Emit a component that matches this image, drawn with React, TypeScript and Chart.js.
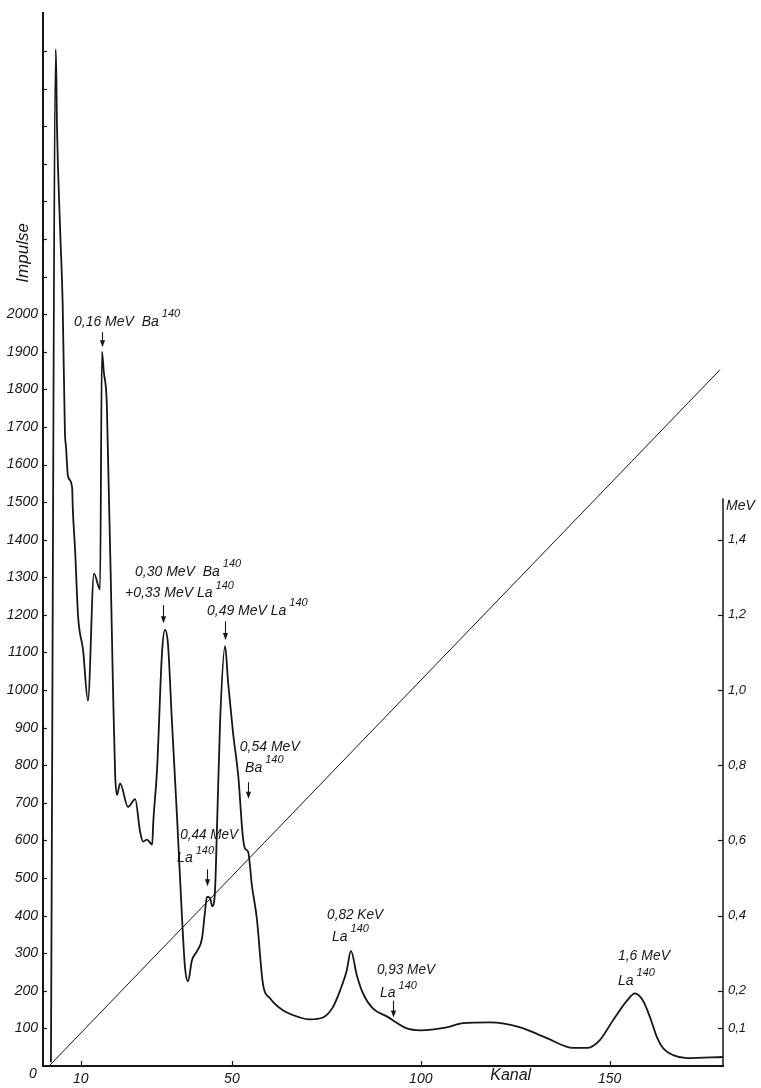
import React, { useEffect, useRef } from 'react';
import { Chart, registerables } from 'chart.js';

Chart.register(...registerables);

// ---- data ----
const CHANNELS = [
  2.1, 3.4, 3.7, 4.5, 5.2, 5.8, 6.1, 6.6, 7.7, 7.9, 8.5, 9.3, 10.6, 11.9, 13.5, 15.1, 15.6, 16.1, 16.9,
  18.5, 19.1, 19.6, 20.4, 22.5, 24.4, 25.7, 26.5, 27.5, 28.9, 29.2, 30.2, 31.5, 32.3, 33.1, 34.1, 35.5,
  36.8, 37.6, 38.4, 39.4, 40.8, 42.1, 42.9, 43.4, 44.2, 44.8, 45.5, 46.1, 46.9, 48.2, 49.0, 50.3, 51.7,
  52.9, 53.5, 54.3, 55.3, 56.6, 58.2, 60.1, 63.5, 68.0, 70.7, 74.1, 76.7, 78.6, 80.4, 81.5, 83.1, 84.7,
  87.3, 91.0, 96.3, 99.8, 106.9, 111.2, 118.3, 126.3, 133.4, 140.3, 144.0, 147.4, 150.9, 154.6, 156.7,
  158.8, 160.7, 162.5, 164.1, 166.8, 170.5, 180,
];
const COUNTS = [
  10, 2705, 2500, 2235, 2030, 1688, 1646, 1569, 1540, 1480, 1371, 1195, 1107, 972, 1310, 1268, 1900, 1846, 1759,
  1020, 774, 721, 752, 689, 710, 623, 597, 602, 589, 650, 790, 1099, 1160, 1120, 922, 658,
  394, 261, 225, 280, 306, 340, 412, 450, 447, 425, 460, 650, 922, 1117, 1020, 887, 770,
  610, 578, 570, 480, 393, 220, 180, 148, 129, 124, 129, 156, 200, 254, 306, 240, 193,
  153, 132, 100, 95, 103, 114, 116, 103, 74, 48, 48, 69, 122, 174, 193,
  174, 129, 77, 48, 29, 21, 24,
];
// energy calibration line (Kanal -> MeV)
const CAL_CHANNELS = [1.6, 179.2];
const CAL_MEV = [0, 1.852];

const X_TICKS = [10, 50, 100, 150];
const IMPULSE_LABEL_MAX = 2000;
const MEV_TICKS = [0.1, 0.2, 0.4, 0.6, 0.8, 1.0, 1.2, 1.4];
const MEV_AXIS_TOP = 1.51;

// peak labels, anchored in data units (Kanal, Impulse)
const LABELS = [
  { text: '0,16 MeV  Ba', sup: '140', ch: 8.2, v: 1978, w: 93 },
  { text: '0,30 MeV  Ba', sup: '140', ch: 24.35, v: 1315, w: 93 },
  { text: '+0,33 MeV La', sup: '140', ch: 21.7, v: 1257, w: 95 },
  { text: '0,49 MeV La', sup: '140', ch: 43.4, v: 1210, w: 85 },
  { text: '0,54 MeV', sup: '', ch: 52.1, v: 848, w: 65 },
  { text: 'Ba', sup: '140', ch: 53.5, v: 792, w: 22 },
  { text: '0,44 MeV', sup: '', ch: 36.3, v: 613, w: 58 },
  { text: 'La', sup: '140', ch: 35.5, v: 552, w: 18 },
  { text: '0,82 KeV', sup: '', ch: 75.2, v: 401, w: 56 },
  { text: 'La', sup: '140', ch: 76.5, v: 343, w: 20 },
  { text: '0,93 MeV', sup: '', ch: 88.4, v: 256, w: 58 },
  { text: 'La', sup: '140', ch: 89.2, v: 193, w: 18 },
  { text: '1,6 MeV', sup: '', ch: 152.2, v: 293, w: 52 },
  { text: 'La', sup: '140', ch: 152.2, v: 225, w: 19 },
];
const ARROWS = [
  { ch: 15.6, from: 1952, to: 1912 },
  { ch: 31.8, from: 1226, to: 1178 },
  { ch: 48.2, from: 1183, to: 1133 },
  { ch: 54.3, from: 755, to: 711 },
  { ch: 43.4, from: 523, to: 478 },
  { ch: 92.6, from: 174, to: 129 },
];

const INK = '#161616';
const FONT = '"Liberation Sans", Arial, sans-serif';

const decor = {
  id: 'decor',
  afterDraw(chart: any) {
    const { ctx, chartArea, scales } = chart;
    const sx = scales.x, sy = scales.y, sy2 = scales.y2;
    const line = (x1: number, y1: number, x2: number, y2: number) => {
      ctx.beginPath();
      ctx.moveTo(x1, y1);
      ctx.lineTo(x2, y2);
      ctx.stroke();
    };
    ctx.save();
    ctx.strokeStyle = INK;
    ctx.fillStyle = INK;

    // inward tick marks on the Impulse axis
    ctx.lineWidth = 1.2;
    for (let v = 100; v <= 2700; v += 100) {
      const py = Math.round(sy.getPixelForValue(v)) + 0.5;
      line(chartArea.left, py, chartArea.left + 4, py);
    }
    // inward tick marks on the Kanal axis
    for (const v of X_TICKS) {
      const px = Math.round(sx.getPixelForValue(v)) + 0.5;
      line(px, chartArea.bottom, px, chartArea.bottom - 5);
    }
    // right MeV axis (partial height)
    const rx = chartArea.right;
    ctx.lineWidth = 1.5;
    line(rx, sy2.getPixelForValue(0), rx, sy2.getPixelForValue(MEV_AXIS_TOP));
    ctx.lineWidth = 1.2;
    for (const e of MEV_TICKS) {
      const py = Math.round(sy2.getPixelForValue(e)) + 0.5;
      line(rx - 5, py, rx, py);
    }

    const text = (t: string, x: number, y: number, size: number, maxW?: number) => {
      ctx.font = `italic ${size}px ${FONT}`;
      ctx.textBaseline = 'middle';
      ctx.textAlign = 'left';
      const nat = ctx.measureText(t).width;
      if (maxW && nat > maxW) {
        ctx.fillText(t, x, y, maxW);
        return maxW;
      }
      ctx.fillText(t, x, y);
      return nat;
    };

    // peak labels
    for (const l of LABELS) {
      const px = sx.getPixelForValue(l.ch);
      const py = sy.getPixelForValue(l.v);
      const w = text(l.text, px, py, 14, l.w);
      if (l.sup) text(l.sup, px + w + 3, py - 8, 11, 20);
    }
    // arrows
    ctx.lineWidth = 1.1;
    for (const a of ARROWS) {
      const px = Math.round(sx.getPixelForValue(a.ch)) + 0.5;
      const t = sy.getPixelForValue(a.from);
      const b = sy.getPixelForValue(a.to);
      line(px, t, px, b - 5);
      ctx.beginPath();
      ctx.moveTo(px - 2.6, b - 7);
      ctx.lineTo(px + 2.6, b - 7);
      ctx.lineTo(px, b);
      ctx.closePath();
      ctx.fill();
    }

    // axis titles
    ctx.save();
    ctx.translate(chartArea.left - 20, sy.getPixelForValue(2163));
    ctx.rotate(-Math.PI / 2);
    ctx.font = `italic 17px ${FONT}`;
    ctx.textAlign = 'center';
    ctx.textBaseline = 'middle';
    ctx.fillText('Impulse', 0, 0);
    ctx.restore();

    ctx.font = `italic 16px ${FONT}`;
    ctx.textAlign = 'center';
    ctx.textBaseline = 'middle';
    ctx.fillText('Kanal', sx.getPixelForValue(123.8), chartArea.bottom + 10);

    ctx.font = `italic 14px ${FONT}`;
    ctx.textAlign = 'left';
    ctx.fillText('MeV', rx + 3, sy2.getPixelForValue(1.49));

    ctx.font = `italic 14px ${FONT}`;
    ctx.textAlign = 'center';
    ctx.fillText('0', chartArea.left - 10, chartArea.bottom + 8);

    ctx.restore();
  },
};

export default function App() {
  const ref = useRef<HTMLCanvasElement | null>(null);

  useEffect(() => {
    if (!ref.current) return;
    const tickFont = { family: FONT, size: 14, style: 'italic' as const };
    const chart = new Chart(ref.current, {
      type: 'line',
      data: {
        datasets: [
          {
            data: CHANNELS.map((c, i) => ({ x: c, y: COUNTS[i] })),
            borderColor: INK,
            borderWidth: 1.8,
            pointRadius: 0,
            cubicInterpolationMode: 'monotone',
            fill: false,
            yAxisID: 'y',
          },
          {
            data: CAL_CHANNELS.map((c, i) => ({ x: c, y: CAL_MEV[i] })),
            borderColor: INK,
            borderWidth: 1,
            pointRadius: 0,
            tension: 0,
            fill: false,
            yAxisID: 'y2',
          },
        ],
      },
      options: {
        responsive: false,
        animation: false,
        events: [],
        layout: { padding: { top: 6, left: 0, right: 0, bottom: 0 } },
        plugins: { legend: { display: false }, tooltip: { enabled: false } },
        scales: {
          x: {
            type: 'linear',
            min: 0,
            max: 180,
            afterFit: (s: any) => { s.height = 22; },
            afterBuildTicks: (s: any) => { s.ticks = X_TICKS.map((v) => ({ value: v })); },
            ticks: { autoSkip: false, maxRotation: 0, padding: 5, color: INK, font: tickFont },
            grid: { display: true, drawOnChartArea: false, drawTicks: false },
            border: { display: true, color: INK, width: 2 },
          },
          y: {
            type: 'linear',
            position: 'left',
            min: 0,
            max: 2800,
            afterFit: (s: any) => { s.width = 43; },
            ticks: {
              stepSize: 100,
              autoSkip: false,
              padding: 5,
              color: INK,
              font: tickFont,
              callback: (v: any) => (v > 0 && v <= IMPULSE_LABEL_MAX ? String(v) : ''),
            },
            grid: { display: true, drawOnChartArea: false, drawTicks: false },
            border: { display: true, color: INK, width: 2 },
          },
          y2: {
            type: 'linear',
            position: 'right',
            min: 0,
            max: 2.8,
            afterFit: (s: any) => { s.width = 38; },
            afterBuildTicks: (s: any) => { s.ticks = MEV_TICKS.map((v) => ({ value: v })); },
            ticks: {
              autoSkip: false,
              padding: 5,
              color: INK,
              font: { family: FONT, size: 13, style: 'italic' as const },
              callback: (v: any) => Number(v).toFixed(1).replace('.', ','),
            },
            grid: { display: true, drawOnChartArea: false, drawTicks: false },
            border: { display: false },
          },
        },
      } as any,
      plugins: [decor],
    });
    return () => chart.destroy();
  }, []);

  return (
    <div style={{ position: 'absolute', left: 0, top: 0, width: 761, height: 1088, background: '#fff' }}>
      <canvas ref={ref} width={761} height={1088} style={{ display: 'block' }} />
    </div>
  );
}
